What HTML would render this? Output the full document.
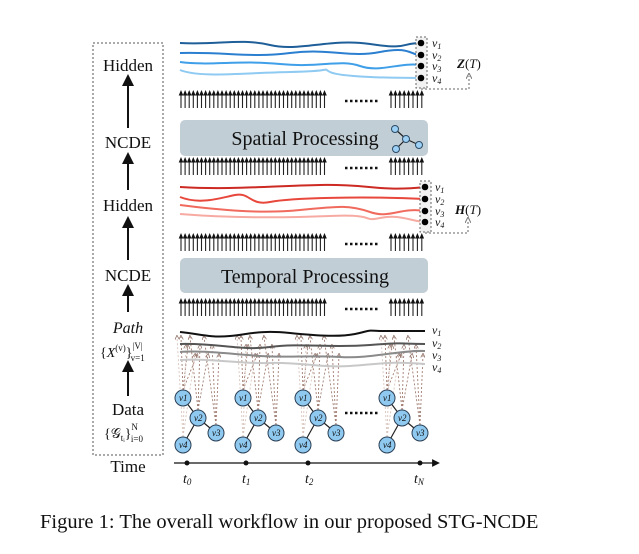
<!DOCTYPE html>
<html><head><meta charset="utf-8"><style>
html,body{margin:0;padding:0;background:#fff;}
svg{display:block;}
text{font-family:"Liberation Serif","DejaVu Serif",serif;fill:#111;}
</style></head><body>
<svg id="fig" width="639" height="554" viewBox="0 0 639 554" xmlns="http://www.w3.org/2000/svg">
<defs>
<marker id="ah" markerWidth="6" markerHeight="6" refX="3" refY="3" orient="auto"><path d="M0,0 L6,3 L0,6 Z" fill="#111"/></marker>
<marker id="ahb" markerWidth="5" markerHeight="5" refX="3" refY="2.5" orient="auto"><path d="M0,0 L5,2.5 L0,5" fill="none" stroke="#8a6a60" stroke-width="0.8"/></marker>
<marker id="ahg" markerWidth="6" markerHeight="6" refX="3" refY="3" orient="auto"><path d="M0,0 L6,3 L0,6" fill="none" stroke="#777" stroke-width="1"/></marker>
</defs>

<g>
<rect x="93" y="43" width="70" height="412" fill="none" stroke="#555" stroke-dasharray="2,2" stroke-width="1"/>
<text x="128" y="71" font-size="17" text-anchor="middle">Hidden</text>
<text x="128" y="148" font-size="17" text-anchor="middle">NCDE</text>
<text x="128" y="211" font-size="17" text-anchor="middle">Hidden</text>
<text x="128" y="281" font-size="17" text-anchor="middle">NCDE</text>
<text x="128" y="333" font-size="16" text-anchor="middle" font-style="italic">Path</text>
<text x="100" y="357" font-size="14">{<tspan font-style="italic">X</tspan><tspan font-size="9" dy="-6">(v)</tspan><tspan dy="6">}</tspan><tspan font-size="9" dy="-8">|V|</tspan><tspan font-size="9" dx="-12" dy="12">v=1</tspan></text>
<text x="128" y="415" font-size="17" text-anchor="middle">Data</text>
<text x="104" y="438" font-size="14">{𝒢<tspan font-size="9" dy="3">tᵢ</tspan><tspan dy="-3">}</tspan><tspan font-size="9" dy="-8">N</tspan><tspan font-size="9" dx="-7" dy="12">i=0</tspan></text>
<text x="128" y="472" font-size="17" text-anchor="middle">Time</text>
<g stroke="#111" stroke-width="2" marker-end="url(#ah)">
<line x1="128" y1="128" x2="128" y2="80"/>
<line x1="128" y1="190" x2="128" y2="158"/>
<line x1="128" y1="260" x2="128" y2="222"/>
<line x1="128" y1="312" x2="128" y2="290"/>
<line x1="128" y1="396" x2="128" y2="366"/>
</g>
</g>

<g>
<rect x="180" y="120" width="248" height="36" rx="5" fill="#c2ced5"/>
<text x="305" y="145" font-size="20" text-anchor="middle">Spatial Processing</text>
<g stroke="#222" stroke-width="1.2">
<line x1="395" y1="129" x2="406" y2="139"/><line x1="406" y1="139" x2="419" y2="145"/><line x1="406" y1="139" x2="396" y2="149"/>
</g>
<g fill="#9cd0f4" stroke="#2a4a66" stroke-width="1">
<circle cx="395" cy="129" r="3.5"/><circle cx="406" cy="139" r="3.5"/><circle cx="419" cy="145" r="3.5"/><circle cx="396" cy="149" r="3.5"/>
</g>
</g>
<g>
<rect x="180" y="258" width="248" height="35" rx="5" fill="#c2ced5"/>
<text x="305" y="283" font-size="20" text-anchor="middle">Temporal Processing</text>
</g>

<g id="arrows"></g>

<g fill="none" stroke-width="2">
<path d="M180,43 C220,45 240,38 270,45 S330,38 370,44 S400,43 421,43" stroke="#1f5f99"/>
<path d="M180,53 C230,52 250,58 290,53 S350,58 380,52 S410,55 421,55" stroke="#2a7fd0"/>
<path d="M180,62 C210,66 240,60 280,64 S340,59 360,66 S400,62 421,65" stroke="#3f9fe8"/>
<path d="M180,70 C200,78 240,73 290,72 S320,67 330,72 S390,78 421,78" stroke="#8ecaf2"/>
</g>
<g>
<rect x="416" y="37" width="11" height="51" fill="#f2f2f2" stroke="#666" stroke-dasharray="2,2"/>
<g fill="#000"><circle cx="421" cy="43" r="3.3"/><circle cx="421" cy="55" r="3.3"/><circle cx="421" cy="66" r="3.3"/><circle cx="421" cy="78" r="3.3"/></g>
<g font-size="12" font-style="italic"><text x="432" y="47">v<tspan font-size="8" dy="2">1</tspan></text><text x="432" y="59">v<tspan font-size="8" dy="2">2</tspan></text><text x="432" y="70">v<tspan font-size="8" dy="2">3</tspan></text><text x="432" y="82">v<tspan font-size="8" dy="2">4</tspan></text></g>
<path d="M421,89 L469,89 L469,76" fill="none" stroke="#666" stroke-dasharray="2,2" marker-end="url(#ahg)"/>
<text x="457" y="68" font-size="13"><tspan font-weight="bold" font-style="italic">Z</tspan>(<tspan font-style="italic">T</tspan>)</text>
</g>

<g fill="none" stroke-width="2">
<path d="M180,187 C230,190 270,186 320,185 S380,192 425,187" stroke="#cc2a22"/>
<path d="M180,197 C200,205 220,198 235,195 S250,206 270,202 S360,196 425,199" stroke="#e8473c"/>
<path d="M180,205 C220,210 260,214 300,210 S350,205 370,212 S400,207 425,211" stroke="#f06a5e"/>
<path d="M180,214 C230,218 280,218 330,216 S360,222 380,218 S410,221 425,222" stroke="#f7aaa2"/>
</g>
<g>
<rect x="420" y="181" width="11" height="51" fill="#f2f2f2" stroke="#666" stroke-dasharray="2,2"/>
<g fill="#000"><circle cx="425" cy="187" r="3.3"/><circle cx="425" cy="199" r="3.3"/><circle cx="425" cy="211" r="3.3"/><circle cx="425" cy="222" r="3.3"/></g>
<g font-size="12" font-style="italic"><text x="435" y="191">v<tspan font-size="8" dy="2">1</tspan></text><text x="435" y="203">v<tspan font-size="8" dy="2">2</tspan></text><text x="435" y="215">v<tspan font-size="8" dy="2">3</tspan></text><text x="435" y="226">v<tspan font-size="8" dy="2">4</tspan></text></g>
<path d="M425,233 L468,233 L468,220" fill="none" stroke="#666" stroke-dasharray="2,2" marker-end="url(#ahg)"/>
<text x="455" y="214" font-size="13"><tspan font-weight="bold" font-style="italic">H</tspan>(<tspan font-style="italic">T</tspan>)</text>
</g>

<g id="dashes"></g>

<g fill="none" stroke-width="2">
<path d="M180,332 C200,334 210,338 230,336 S260,330 290,333 S340,337 355,334 S365,330 380,331 L425,331" stroke="#111"/>
<path d="M180,344 C220,343 240,351 270,347 S330,348 370,345 S400,344 425,344" stroke="#555"/>
<path d="M180,352 C200,350 230,354 260,356 S310,355 340,357 S400,350 425,351" stroke="#8a8a8a"/>
<path d="M180,360 C210,358 240,364 270,363 S320,368 350,366 S390,361 425,364" stroke="#c8c8c8"/>
<g font-size="12" font-style="italic" stroke="none" fill="#111"><text x="432" y="334">v<tspan font-size="8" dy="2">1</tspan></text><text x="432" y="347">v<tspan font-size="8" dy="2">2</tspan></text><text x="432" y="359">v<tspan font-size="8" dy="2">3</tspan></text><text x="432" y="371">v<tspan font-size="8" dy="2">4</tspan></text></g>
</g>

<g id="graphs"></g>
<g fill="none" stroke="#111" stroke-width="2.5" stroke-dasharray="2.5,2.5">
<line x1="345" y1="413" x2="378" y2="413"/>
</g>

<g>
<line x1="174" y1="463" x2="436" y2="463" stroke="#111" stroke-width="1.3" marker-end="url(#ah)"/>
<g fill="#111"><circle cx="187" cy="463" r="2.5"/><circle cx="246" cy="463" r="2.5"/><circle cx="308" cy="463" r="2.5"/><circle cx="420" cy="463" r="2.5"/></g>
<g font-size="14" font-style="italic"><text x="183" y="483">t<tspan font-size="9" dy="2">0</tspan></text><text x="242" y="483">t<tspan font-size="9" dy="2">1</tspan></text><text x="305" y="483">t<tspan font-size="9" dy="2">2</tspan></text><text x="414" y="483">t<tspan font-size="9" dy="2">N</tspan></text></g>
</g>

<text x="40" y="528" font-size="20.5">Figure 1: The overall workflow in our proposed STG-NCDE</text>
</svg>
<script>
const rowYs=[90,157,233,298];
const leftCount=36, rightCount=8;
const graphXs=[183,243,303,387];
const NS='http://www.w3.org/2000/svg';
const ag=document.getElementById('arrows');
rowYs.forEach(function(y){
  for(let i=0;i<leftCount+rightCount;i++){
    const x=i<leftCount?181+i*4.1:391+(i-leftCount)*4.4;
    const l=document.createElementNS(NS,'line');
    
    
    l.setAttribute('x1',x);l.setAttribute('x2',x);
    l.setAttribute('y1',y+18);l.setAttribute('y2',y+3);
    l.setAttribute('stroke','#222');l.setAttribute('stroke-width','1.1');
    ag.appendChild(l);
    const h=document.createElementNS(NS,'path');
    
    
    h.setAttribute('d','M'+(x-2.3)+','+(y+5.5)+' L'+x+','+y+' L'+(x+2.3)+','+(y+5.5)+' Z');
    h.setAttribute('fill','#111');
    ag.appendChild(h);
  }
  const d=document.createElementNS(NS,'line');
  
  
  d.setAttribute('x1',345);d.setAttribute('x2',378);d.setAttribute('y1',y+11);d.setAttribute('y2',y+11);
  d.setAttribute('stroke','#111');d.setAttribute('stroke-width','2.5');d.setAttribute('stroke-dasharray','2.5,2.5');
  ag.appendChild(d);
});
const dg=document.getElementById('dashes');
const gg=document.getElementById('graphs');
const offs=[[0,0],[15,20],[33,35],[0,47]];
const fan=[[-2,5,14],[-8,2,10],[-12,-4,3],[-6,3,12]];
graphXs.forEach(function(tx){
  const nodes=offs.map(o=>[tx+o[0],398+o[1]]);
  nodes.forEach(function(n,k){
    fan[k].forEach(function(dx,j){
      const a=document.createElementNS(NS,'line');
      
      
      a.setAttribute('x1',n[0]);a.setAttribute('y1',n[1]-8);
      a.setAttribute('x2',n[0]+dx);a.setAttribute('y2',337+j*9);
      a.setAttribute('stroke',k===3?'#d8c4bd':'#a07c70');a.setAttribute('stroke-width','0.9');
      a.setAttribute('stroke-dasharray','2,2');a.setAttribute('marker-end','url(#ahb)');
      dg.appendChild(a);
    });
  });
  [[0,1],[1,2],[1,3]].forEach(function(e){
    const l=document.createElementNS(NS,'line');
    
    
    l.setAttribute('x1',nodes[e[0]][0]);l.setAttribute('y1',nodes[e[0]][1]);
    l.setAttribute('x2',nodes[e[1]][0]);l.setAttribute('y2',nodes[e[1]][1]);
    l.setAttribute('stroke','#222');l.setAttribute('stroke-width','1.2');
    gg.appendChild(l);
  });
  nodes.forEach(function(n,k){
    const c=document.createElementNS(NS,'circle');
    
    
    c.setAttribute('cx',n[0]);c.setAttribute('cy',n[1]);c.setAttribute('r',8);
    c.setAttribute('fill','#8fc9f0');c.setAttribute('stroke','#2a3f55');c.setAttribute('stroke-width','1');
    gg.appendChild(c);
    const t=document.createElementNS(NS,'text');
    
    
    t.setAttribute('x',n[0]-4);t.setAttribute('y',n[1]+3);
    t.setAttribute('font-size','9');t.setAttribute('font-style','italic');
    t.textContent='v'+(k+1);
    gg.appendChild(t);
  });
});
</script>
</body></html>
